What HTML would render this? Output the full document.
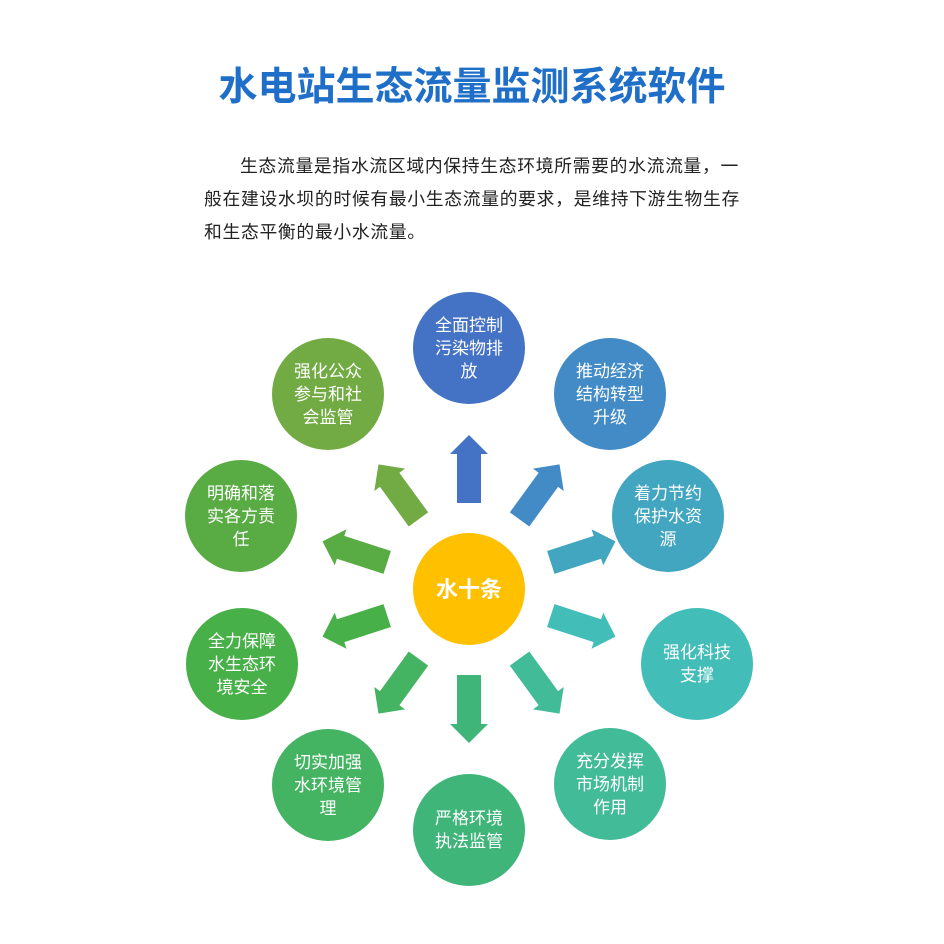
<!DOCTYPE html>
<html><head><meta charset="utf-8"><style>
body{margin:0;width:944px;height:944px;background:#fff;position:relative;overflow:hidden;font-family:"Liberation Sans","Noto Sans CJK SC",sans-serif}
h1{position:absolute;left:0;width:944px;top:62px;margin:0;text-align:center;font-size:39px;font-weight:bold;color:#1f6fc8;line-height:52px}
p{position:absolute;left:204px;top:150px;width:560px;margin:0;font-size:17.8px;letter-spacing:0.7px;line-height:33px;color:#222;white-space:nowrap}
.c{position:absolute;width:112px;height:112px;border-radius:50%;color:#fff;font-size:17px;line-height:23px;display:flex;align-items:center;justify-content:center;text-align:center}
.c span{width:80px}
</style></head><body>
<h1>水电站生态流量监测系统软件</h1>
<p><span style="display:inline-block;width:36px"></span>生态流量是指水流区域内保持生态环境所需要的水流流量，一<br>般在建设水坝的时候有最小生态流量的要求，是维持下游生物生存<br>和生态平衡的最小水流量。</p>
<svg width="944" height="944" style="position:absolute;left:0;top:0">
<defs><path id="a" d="M86,-12 L135,-12 L135,-19 L154,0 L135,19 L135,12 L86,12 Z"/></defs>
<g transform="translate(469,589)">
<use href="#a" fill="#4472c4" transform="rotate(-90)"/>
<use href="#a" fill="#428bc6" transform="rotate(-54)"/>
<use href="#a" fill="#42a6c0" transform="rotate(-18)"/>
<use href="#a" fill="#42bdb8" transform="rotate(18)"/>
<use href="#a" fill="#42bb98" transform="rotate(54)"/>
<use href="#a" fill="#3fb57a" transform="rotate(90)"/>
<use href="#a" fill="#44b462" transform="rotate(126)"/>
<use href="#a" fill="#48b048" transform="rotate(162)"/>
<use href="#a" fill="#59ac44" transform="rotate(198)"/>
<use href="#a" fill="#72ab44" transform="rotate(234)"/>
<circle r="56" fill="#ffc000"/>
<text y="8" text-anchor="middle" fill="#fff" font-size="22" font-weight="bold" font-family="Liberation Sans,Noto Sans CJK SC,sans-serif">水十条</text>
</g></svg>
<div class="c" style="left:413px;top:292px;background:#4472c4"><span>全面控制污染物排放</span></div>
<div class="c" style="left:554px;top:338px;background:#428bc6"><span>推动经济结构转型升级</span></div>
<div class="c" style="left:612px;top:460px;background:#42a6c0"><span>着力节约保护水资源</span></div>
<div class="c" style="left:641px;top:608px;background:#42bdb8"><span>强化科技支撑</span></div>
<div class="c" style="left:554px;top:728px;background:#42bb98"><span>充分发挥市场机制作用</span></div>
<div class="c" style="left:413px;top:774px;background:#3fb57a"><span>严格环境执法监管</span></div>
<div class="c" style="left:272px;top:729px;background:#44b462"><span>切实加强水环境管理</span></div>
<div class="c" style="left:186px;top:608px;background:#48b048"><span>全力保障水生态环境安全</span></div>
<div class="c" style="left:185px;top:460px;background:#59ac44"><span>明确和落实各方责任</span></div>
<div class="c" style="left:272px;top:338px;background:#72ab44"><span>强化公众参与和社会监管</span></div>
</body></html>
